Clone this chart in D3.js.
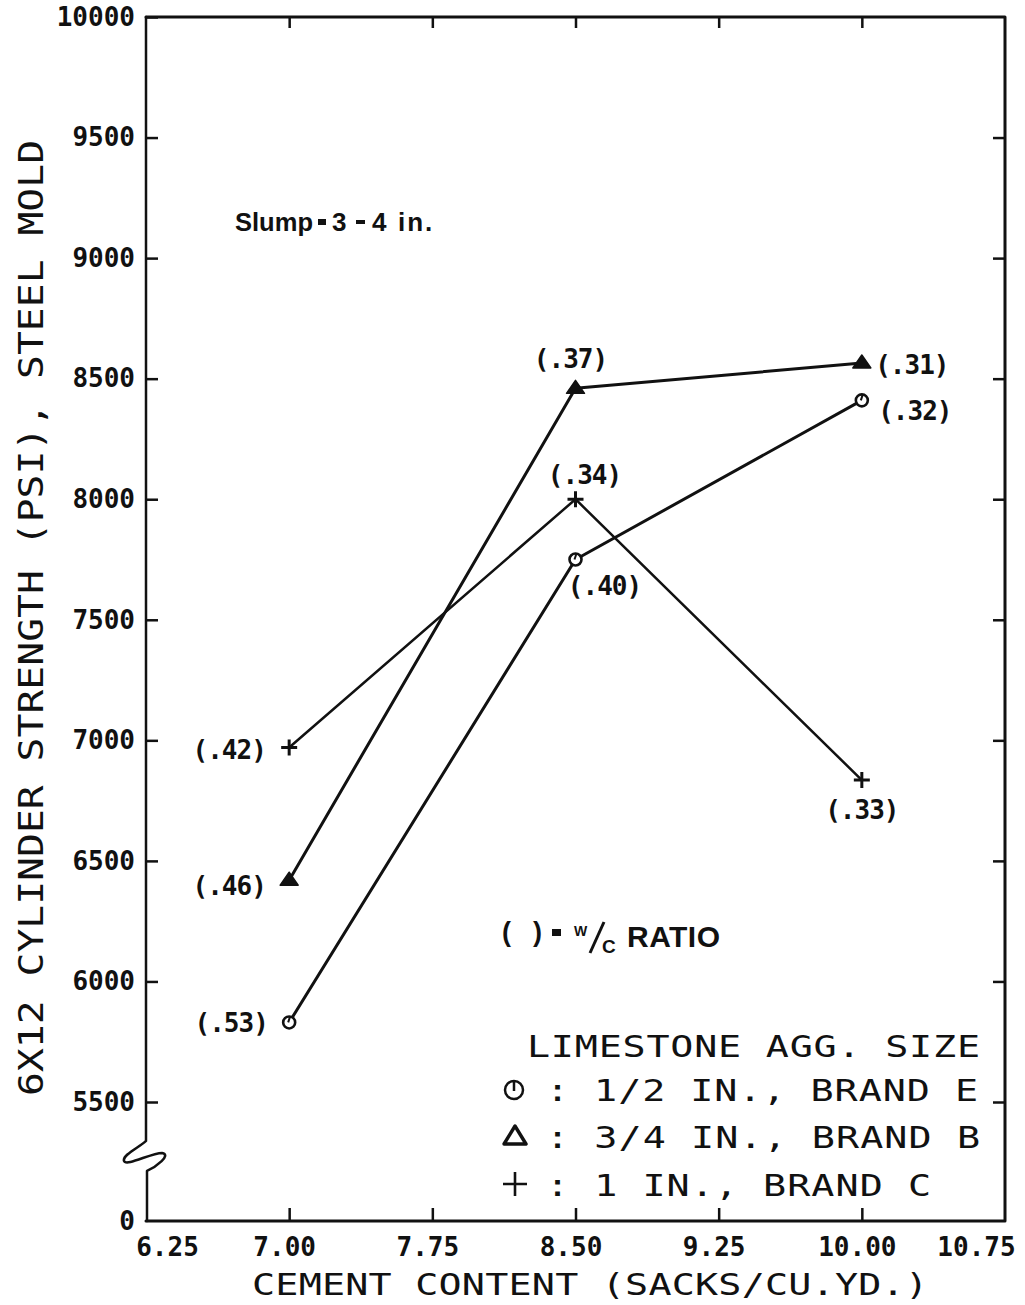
<!DOCTYPE html>
<html>
<head>
<meta charset="utf-8">
<script src="https://cdn.jsdelivr.net/npm/d3@7"></script>
<style>
  html, body { margin: 0; padding: 0; background: #fff; }
  svg { display: block; }
</style>
</head>
<body>
<svg id="chart" width="1025" height="1305"></svg>
<script>
// ---- data ----
const xTickValues = [6.25, 7.00, 7.75, 8.50, 9.25, 10.00, 10.75];
const xTickLabels = ["6.25", "7.00", "7.75", "8.50", "9.25", "10.00", "10.75"];
const yTickValues = [0, 5500, 6000, 6500, 7000, 7500, 8000, 8500, 9000, 9500, 10000];
const yTickLabels = ["0", "5500", "6000", "6500", "7000", "7500", "8000", "8500", "9000", "9500", "10000"];

const cementContent = [7.00, 8.50, 10.00];            // sacks / cu. yd.
const strengthHalfInchE = [5830, 7750, 8410];          // psi
const strengthThreeQuarterB = [6420, 8460, 8565];
const strengthOneInchC = [6970, 8000, 6835];
const wcHalfInchE = [".53", ".40", ".32"];             // water / cement ratio
const wcThreeQuarterB = [".46", ".37", ".31"];
const wcOneInchC = [".42", ".34", ".33"];
const seriesNames = ["1/2 IN., BRAND E", "3/4 IN., BRAND B", "1 IN., BRAND C"];

// ---- layout ----
const svg = d3.select("#chart");
const ink = "#111";
const mono = "'DejaVu Sans Mono', 'Liberation Mono', monospace";
const sans = "'Liberation Sans', Arial, sans-serif";

const x = d3.scaleLinear().domain([6.25, 10.75]).range([146, 1005]);
// broken axis: 0 .. 5500 squeezed into one tick interval
const y = d3.scaleLinear().domain([0, 5500, 10000]).range([1221, 1102, 17]);

const x0 = x(6.25), x1 = x(10.75), yTop = y(10000), yBot = y(0);

// wide plotter-style lettering: monospace glyphs stretched along the baseline
function wideText(parent, xs, ys, len, str, opts = {}) {
  const sx = opts.sx || 1.28, size = opts.size || 30, rot = opts.rotate || 0;
  return parent.append("text")
    .attr("transform", `translate(${xs},${ys}) rotate(${rot}) scale(${sx},1)`)
    .attr("font-family", mono).attr("font-size", size).attr("fill", ink)
    .attr("textLength", len / sx).attr("lengthAdjust", "spacing")
    .text(str);
}

// ---- axes (ticks point inward on all four sides) ----
const gLeft = svg.append("g").attr("transform", `translate(${x0},0)`)
  .call(d3.axisLeft(y).tickValues(yTickValues).tickSizeInner(-12).tickSizeOuter(0)
    .tickPadding(11).tickFormat((d, i) => yTickLabels[i]));
gLeft.selectAll(".tick").filter(d => d === 0).select("line").remove();

const gRight = svg.append("g").attr("transform", `translate(${x1},0)`)
  .call(d3.axisRight(y).tickValues(yTickValues.filter(d => d > 0 && d < 10000))
    .tickSizeInner(-12).tickSizeOuter(0).tickFormat(""));

const gTop = svg.append("g").attr("transform", `translate(0,${yTop})`)
  .call(d3.axisTop(x).tickValues(xTickValues.slice(1, -1)).tickSizeInner(-11)
    .tickSizeOuter(0).tickFormat(""));

const gBottom = svg.append("g").attr("transform", `translate(0,${yBot})`)
  .call(d3.axisBottom(x).tickValues(xTickValues).tickSizeInner(-13).tickSizeOuter(0)
    .tickPadding(17).tickFormat((d, i) => xTickLabels[i]));
gBottom.selectAll(".tick").filter(d => d === 6.25 || d === 10.75).select("line").remove();
gBottom.selectAll(".tick").filter(d => d === 6.25).select("text").attr("dx", 21);
gBottom.selectAll(".tick").filter(d => d === 10.75).select("text").attr("dx", -29);
gBottom.selectAll(".tick").filter(d => d > 6.25 && d < 10.75).select("text").attr("dx", -5);

[gLeft, gRight, gTop, gBottom].forEach(g => {
  g.select(".domain").remove();
  g.selectAll(".tick line").attr("stroke", ink).attr("stroke-width", 2.5);
  g.selectAll(".tick text").attr("fill", ink).attr("font-family", mono)
    .attr("font-weight", "bold").attr("font-size", 26);
});

// ---- frame with axis break on the left ----
const frame = svg.append("g").attr("fill", "none").attr("stroke", ink)
  .attr("stroke-width", 3).attr("stroke-linejoin", "round").attr("stroke-linecap", "round");
frame.append("path").attr("d", `M${x0},${yTop} H${x1} V${yBot} H${x0}`);
const yb = y(0) - 0.53 * (y(0) - y(5500));   // centre of the break symbol
frame.append("path").attr("stroke-width", 2.5).attr("d",
  `M${x0},${yTop} V${yb - 17}` +
  ` C${x0 - 6},${yb - 11} ${x0 - 24},${yb - 3} ${x0 - 22},${yb + 3}` +
  ` C${x0 - 20},${yb + 9} ${x0 + 5},${yb - 5} ${x0 + 16},${yb - 5}` +
  ` C${x0 + 26},${yb - 3} ${x0 + 10},${yb + 9} ${x0 + 1},${yb + 13}` +
  ` V${yBot}`);

// ---- series ----
const markerCircle = (g) => {
  g.append("circle").attr("r", 6).attr("fill", "#fff").attr("stroke", ink).attr("stroke-width", 2.6);
  g.append("line").attr("x1", 1).attr("y1", -6).attr("x2", -1).attr("y2", 0)
    .attr("stroke", ink).attr("stroke-width", 2);
};
const markerTriangle = (g) => {
  g.append("path").attr("d", "M0,-8 L9,5 L-9,5 Z").attr("fill", ink)
    .attr("stroke", ink).attr("stroke-width", 1.5).attr("stroke-linejoin", "round");
};
const markerPlus = (g) => {
  g.append("path").attr("d", "M-8,0 H8 M0,-8 V8").attr("stroke", ink).attr("stroke-width", 3);
};

// label offsets (centre of "(.xx)" relative to its point)
const series = [
  { values: strengthHalfInchE, wc: wcHalfInchE, marker: markerCircle, width: 3,
    offsets: [[-58, 0], [29, 26], [53, 10]] },
  { values: strengthThreeQuarterB, wc: wcThreeQuarterB, marker: markerTriangle, width: 3,
    offsets: [[-60, 5], [-5, -30], [50, 2]] },
  { values: strengthOneInchC, wc: wcOneInchC, marker: markerPlus, width: 2.5,
    offsets: [[-60, 2], [9, -25], [0, 30]] }
];

const line = d3.line().x(d => x(d[0])).y(d => y(d[1]));

series.forEach(s => {
  const pts = cementContent.map((c, i) => [c, s.values[i]]);
  svg.append("path").datum(pts).attr("d", line).attr("fill", "none")
    .attr("stroke", ink).attr("stroke-width", s.width).attr("stroke-linejoin", "round");
});

series.forEach(s => {
  cementContent.forEach((c, i) => {
    const g = svg.append("g").attr("transform", `translate(${x(c)},${y(s.values[i])})`);
    s.marker(g);
    svg.append("text")
      .attr("x", x(c) + s.offsets[i][0]).attr("y", y(s.values[i]) + s.offsets[i][1])
      .attr("dy", "0.36em").attr("text-anchor", "middle")
      .attr("font-family", mono).attr("font-weight", "bold").attr("font-size", 26)
      .attr("letter-spacing", -1)
      .attr("fill", ink).text(`(${s.wc[i]})`);
  });
});

// ---- annotations ----
const slump = svg.append("g").attr("fill", ink).attr("font-family", sans)
  .attr("font-weight", "bold").attr("font-size", 26);
slump.append("text").attr("x", 235).attr("y", 231).attr("textLength", 78)
  .attr("lengthAdjust", "spacingAndGlyphs").text("Slump");
slump.append("rect").attr("x", 318).attr("y", 219).attr("width", 8).attr("height", 6);
slump.append("text").attr("x", 332).attr("y", 231).text("3");
slump.append("rect").attr("x", 356).attr("y", 220).attr("width", 9).attr("height", 4);
slump.append("text").attr("x", 372).attr("y", 231).text("4");
slump.append("text").attr("x", 398).attr("y", 231).attr("letter-spacing", 2).text("in.");

const wcNote = svg.append("g").attr("fill", ink).attr("font-family", sans).attr("font-weight", "bold");
wcNote.append("text").attr("x", 502).attr("y", 941).attr("font-size", 27).text("(");
wcNote.append("text").attr("x", 533).attr("y", 941).attr("font-size", 27).text(")");
wcNote.append("rect").attr("x", 552).attr("y", 929).attr("width", 9).attr("height", 7);
wcNote.append("text").attr("x", 574).attr("y", 936).attr("font-size", 14).text("W");
wcNote.append("line").attr("x1", 590).attr("y1", 953).attr("x2", 604).attr("y2", 922)
  .attr("stroke", ink).attr("stroke-width", 3);
wcNote.append("text").attr("x", 602).attr("y", 953).attr("font-size", 19).text("C");
wcNote.append("text").attr("x", 627).attr("y", 947).attr("font-size", 30)
  .attr("textLength", 93).attr("lengthAdjust", "spacing").text("RATIO");

// ---- legend ----
const legend = svg.append("g");
wideText(legend, 527, 1057, 453, "LIMESTONE AGG. SIZE");
const rowY = [1101, 1148, 1196];
const rowEnd = [978, 980, 931];
seriesNames.forEach((name, i) => {
  wideText(legend, 546, rowY[i], rowEnd[i] - 546, ": " + name);
});
const ls = legend.append("g").attr("fill", "none").attr("stroke", ink);
ls.append("circle").attr("cx", 514).attr("cy", 1090).attr("r", 9).attr("stroke-width", 2.5);
ls.append("line").attr("x1", 514).attr("y1", 1080).attr("x2", 514).attr("y2", 1091).attr("stroke-width", 2.5);
ls.append("path").attr("d", "M515,1126 L526,1144 L504,1144 Z").attr("stroke-width", 3.4)
  .attr("stroke-linejoin", "round");
ls.append("path").attr("d", "M503,1184 H527 M515,1172 V1196").attr("stroke-width", 2.6);

// ---- axis titles ----
wideText(svg, 252, 1295, 676, "CEMENT CONTENT (SACKS/CU.YD.)");
wideText(svg, 43, 1096, 956, "6X12 CYLINDER STRENGTH (PSI), STEEL MOLD",
  { rotate: -90, size: 33, sx: 1.2 });
</script>
</body>
</html>
